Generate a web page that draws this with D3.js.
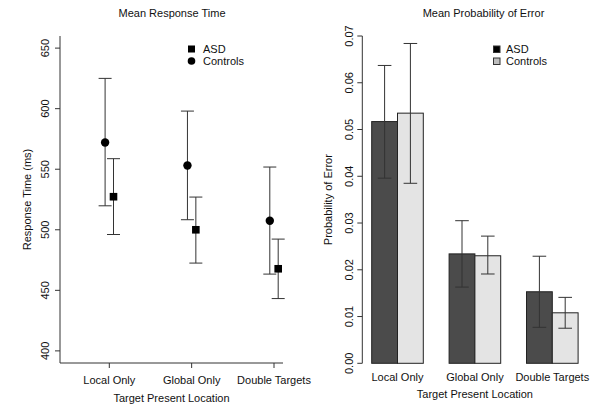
<!DOCTYPE html>
<html><head><meta charset="utf-8">
<script src="https://cdn.jsdelivr.net/npm/d3@7"></script>
<style>body{margin:0;background:#fff}svg{display:block}text{font-family:"Liberation Sans",Arial,sans-serif;fill:#111}</style>
</head><body>
<script>
const categories = ["Local Only", "Global Only", "Double Targets"];
const groups = ["ASD", "Controls"];
// Mean response time (ms)
const rtASD = [527.3, 500, 467.8];
const rtASDLow = [496.1, 472.5, 443.2];
const rtASDHigh = [558.7, 527, 492.3];
const rtCtrl = [572.1, 553.1, 507.4];
const rtCtrlLow = [519.8, 508.3, 463.4];
const rtCtrlHigh = [625, 598, 551.8];
const rtTicks = [400, 450, 500, 550, 600, 650];
// Probability of error
const peASD = [0.0517, 0.0234, 0.0153];
const peASDLow = [0.0396, 0.0163, 0.0077];
const peASDHigh = [0.0637, 0.0305, 0.0229];
const peCtrl = [0.0535, 0.0230, 0.0108];
const peCtrlLow = [0.0385, 0.0191, 0.0075];
const peCtrlHigh = [0.0684, 0.0272, 0.0141];
const peTicks = [0, 0.01, 0.02, 0.03, 0.04, 0.05, 0.06, 0.07];

const W = 601, H = 409;
const svg = d3.select("body").append("svg").attr("width", W).attr("height", H);
const fs = 11;
const lineCol = "#333";

// ---------- Left panel ----------
const L = svg.append("g");
const xL = d3.scalePoint().domain(categories).range([109.3, 274]);
const yL = d3.scaleLinear().domain([390, 660]).range([363, 36]);
const off = 4.2;
// axis lines (bty = "l")
L.append("line").attr("x1", 60).attr("x2", 60).attr("y1", 36).attr("y2", 363).attr("stroke", lineCol);
L.append("line").attr("x1", 60).attr("x2", 283).attr("y1", 363).attr("y2", 363).attr("stroke", lineCol);
rtTicks.forEach(t => {
  L.append("line").attr("x1", 55).attr("x2", 60).attr("y1", yL(t)).attr("y2", yL(t)).attr("stroke", lineCol);
  L.append("text").attr("transform", `translate(49,${yL(t)}) rotate(-90)`).attr("text-anchor", "middle")
    .attr("font-size", fs).text(t);
});
categories.forEach(c => {
  L.append("line").attr("x1", xL(c)).attr("x2", xL(c)).attr("y1", 363).attr("y2", 368).attr("stroke", lineCol);
  L.append("text").attr("x", xL(c)).attr("y", 384).attr("text-anchor", "middle").attr("font-size", fs).text(c);
});
L.append("text").attr("x", 171.5).attr("y", 402).attr("text-anchor", "middle").attr("font-size", fs).text("Target Present Location");
L.append("text").attr("transform", `translate(31,${yL(525)}) rotate(-90)`).attr("text-anchor", "middle").attr("font-size", fs).text("Response Time (ms)");
L.append("text").attr("x", 172).attr("y", 17).attr("text-anchor", "middle").attr("font-size", fs).text("Mean Response Time");

function errBar(g, x, lo, hi, y, cap) {
  g.append("line").attr("x1", x).attr("x2", x).attr("y1", y(lo)).attr("y2", y(hi)).attr("stroke", lineCol);
  [lo, hi].forEach(v => g.append("line").attr("x1", x - cap).attr("x2", x + cap).attr("y1", y(v)).attr("y2", y(v)).attr("stroke", lineCol));
}
categories.forEach((c, i) => {
  const xc = xL(c) - off, xa = xL(c) + off;
  errBar(L, xc, rtCtrlLow[i], rtCtrlHigh[i], yL, 6.5);
  errBar(L, xa, rtASDLow[i], rtASDHigh[i], yL, 6.5);
  L.append("circle").attr("cx", xc).attr("cy", yL(rtCtrl[i])).attr("r", 4.2).attr("fill", "#000");
  L.append("rect").attr("x", xa - 3.8).attr("y", yL(rtASD[i]) - 3.8).attr("width", 7.6).attr("height", 7.6).attr("fill", "#000");
});
// legend
L.append("rect").attr("x", 188).attr("y", 45.5).attr("width", 7).attr("height", 7).attr("fill", "#000");
L.append("circle").attr("cx", 191.5).attr("cy", 61).attr("r", 3.8).attr("fill", "#000");
L.append("text").attr("x", 203).attr("y", 53).attr("font-size", fs).text(groups[0]);
L.append("text").attr("x", 203).attr("y", 65).attr("font-size", fs).text(groups[1]);

// ---------- Right panel ----------
const R = svg.append("g");
const yR = d3.scaleLinear().domain([0, 0.07]).range([363.3, 36]);
const xR = d3.scaleLinear().domain([1, 9]).range([371.7, 578.1]);
R.append("line").attr("x1", 362.3).attr("x2", 362.3).attr("y1", yR(0)).attr("y2", yR(0.07)).attr("stroke", lineCol);
peTicks.forEach(t => {
  R.append("line").attr("x1", 357.3).attr("x2", 362.3).attr("y1", yR(t)).attr("y2", yR(t)).attr("stroke", lineCol);
  R.append("text").attr("transform", `translate(353,${yR(t)}) rotate(-90)`).attr("text-anchor", "middle")
    .attr("font-size", fs).text(t.toFixed(2));
});
const fills = ["#4b4b4b", "#e4e4e4"];
categories.forEach((c, i) => {
  const s = 1 + 3 * i;
  const vals = [peASD[i], peCtrl[i]], lo = [peASDLow[i], peCtrlLow[i]], hi = [peASDHigh[i], peCtrlHigh[i]];
  [0, 1].forEach(k => {
    R.append("rect").attr("x", xR(s + k)).attr("y", yR(vals[k])).attr("width", xR(s + k + 1) - xR(s + k))
      .attr("height", yR(0) - yR(vals[k])).attr("fill", fills[k]).attr("stroke", "#222").attr("stroke-width", 1);
  });
  [0, 1].forEach(k => errBar(R, xR(s + k + 0.5), lo[k], hi[k], yR, 6.8));
  R.append("text").attr("x", xR(s + 1)).attr("y", 381).attr("text-anchor", "middle").attr("font-size", fs).text(c);
});
R.append("text").attr("x", xR(5)).attr("y", 398).attr("text-anchor", "middle").attr("font-size", fs).text("Target Present Location");
R.append("text").attr("transform", `translate(332,${yR(0.035)}) rotate(-90)`).attr("text-anchor", "middle").attr("font-size", fs).text("Probability of Error");
R.append("text").attr("x", 483.5).attr("y", 17).attr("text-anchor", "middle").attr("font-size", fs).text("Mean Probability of Error");
// legend
R.append("rect").attr("x", 493.5).attr("y", 46).attr("width", 6.5).attr("height", 6.5).attr("fill", "#000").attr("stroke", "#333");
R.append("rect").attr("x", 493.5).attr("y", 58).attr("width", 6.5).attr("height", 6.5).attr("fill", "#bdbdbd").attr("stroke", "#333");
R.append("text").attr("x", 506).attr("y", 53).attr("font-size", fs).text(groups[0]);
R.append("text").attr("x", 506).attr("y", 65).attr("font-size", fs).text(groups[1]);
</script>
</body></html>
